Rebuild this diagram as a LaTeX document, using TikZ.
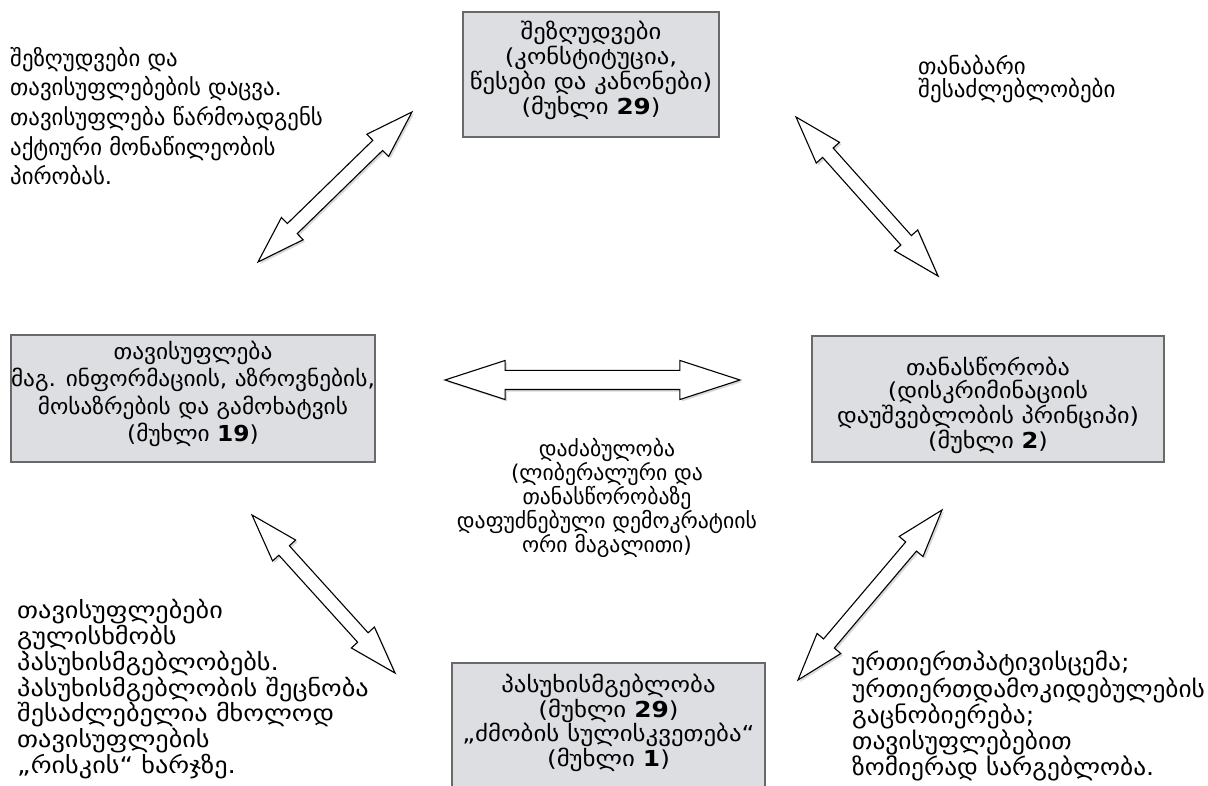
\documentclass[tikz,border=0pt]{standalone}
\usepackage{fontspec}
\setmainfont{DejaVu Sans}
\usetikzlibrary{shapes.arrows,shadows,calc}
\definecolor{boxfill}{RGB}{221,222,225}
\definecolor{boxborder}{RGB}{105,105,105}
\newcommand\kafont[3]{\fontsize{#1}{#2}\selectfont\addfontfeature{FakeStretch=#3}}
\tikzset{
  box/.style={draw=boxborder, line width=1.5pt, fill=boxfill, align=center, inner sep=0pt},
  txt/.style={align=left, inner sep=0pt, anchor=north west},
  ctxt/.style={align=center, inner sep=0pt, anchor=north},
  dbl/.style={double arrow, draw=black, line width=1.1pt, fill=white, inner xsep=0pt,
    double arrow tip angle=36,
    drop shadow={opacity=0.3, shadow xshift=2pt, shadow yshift=-2pt}},
  bigdbl/.style={dbl, inner ysep=9pt, double arrow head extend=10pt},
  smalldbl/.style={dbl, inner ysep=6.5pt, double arrow head extend=8.5pt},
}
\newcommand\linkarrow[3]{%
  \path let \p1=(#1), \p2=(#2), \n1={atan2(\y2-\y1,\x2-\x1)},
    \n2={veclen(\x2-\x1,\y2-\y1)} in
    node[#3, minimum height=\n2, rotate=\n1] at ($(#1)!0.5!(#2)$) {};%
}
\begin{document}
\begin{tikzpicture}[x=1pt,y=-1pt]
\useasboundingbox (0,0) rectangle (1208,786);

% boxes
\node[box, minimum width=256pt, minimum height=125pt, font=\kafont{22}{25}{1.12}] (top) at (591,74.5)
  {შეზღუდვები\\(კონსტიტუცია,\\წესები და კანონები)\\(მუხლი \textbf{29})\rule[-14pt]{0pt}{0pt}};
\node[box, minimum width=362pt, minimum height=127pt, font=\kafont{22}{27.5}{1.06}] (left) at (193,398.5)
  {თავისუფლება\\მაგ. ინფორმაციის, აზროვნების,\\მოსაზრების და გამოხატვის\\(მუხლი \textbf{19})\rule[-14.8pt]{0pt}{0pt}};
\node[box, minimum width=352pt, minimum height=126pt, font=\kafont{22}{23}{1.1}] (right) at (988,399)
  {\rule{0pt}{31pt}თანასწორობა\\(დისკრიმინაციის\\დაუშვებლობის პრინციპი)\\(მუხლი \textbf{2})};
\node[box, minimum width=313pt, minimum height=128pt, font=\kafont{22}{23}{1.13}] (bottom) at (608.5,727)
  {პასუხისმგებლობა\\(მუხლი \textbf{29})\\„ძმობის სულისკვეთება“\\(მუხლი \textbf{1})\rule[-13.8pt]{0pt}{0pt}};

% free texts
\node[txt, font=\kafont{22.8}{29.6}{1}] (tltext) at (10,47)
  {შეზღუდვები და\\თავისუფლებების დაცვა.\\თავისუფლება წარმოადგენს\\აქტიური მონაწილეობის\\პირობას.};
\node[txt, font=\kafont{23}{23}{1}] (trtext) at (918,55.5)
  {თანაბარი\\შესაძლებლობები};
\node[ctxt, font=\kafont{21.7}{24}{1}] (ctext) at (607,438.5)
  {დაძაბულობა\\(ლიბერალური და\\თანასწორობაზე\\დაფუძნებული დემოკრატიის\\ორი მაგალითი)};
\node[txt, font=\kafont{23}{23.3}{1.14}] (bltext) at (17,599.5)
  {თავისუფლებები\\გულისხმობს\\პასუხისმგებლობებს.\\პასუხისმგებლობის შეცნობა\\შესაძლებელია მხოლოდ\\თავისუფლების\\„რისკის“ ხარჯზე.};
\node[txt, font=\kafont{23.5}{23.2}{1.08}] (brtext) at (852,651)
  {ურთიერთპატივისცემა;\\ურთიერთდამოკიდებულების\\გაცნობიერება;\\თავისუფლებებით\\ზომიერად სარგებლობა.};

% arrow end points
\coordinate (atl1) at (258,262);
\coordinate (atl2) at (412,112);
\coordinate (atr1) at (796,117);
\coordinate (atr2) at (938,276);
\coordinate (ah1) at (445,380);
\coordinate (ah2) at (740,380);
\coordinate (abl1) at (252,515);
\coordinate (abl2) at (395,673);
\coordinate (abr1) at (942,510);
\coordinate (abr2) at (798,680);

\linkarrow{atl1}{atl2}{smalldbl}
\linkarrow{atr1}{atr2}{smalldbl}
\linkarrow{ah1}{ah2}{bigdbl}
\linkarrow{abl1}{abl2}{smalldbl}
\linkarrow{abr1}{abr2}{smalldbl}
\end{tikzpicture}
\end{document}
